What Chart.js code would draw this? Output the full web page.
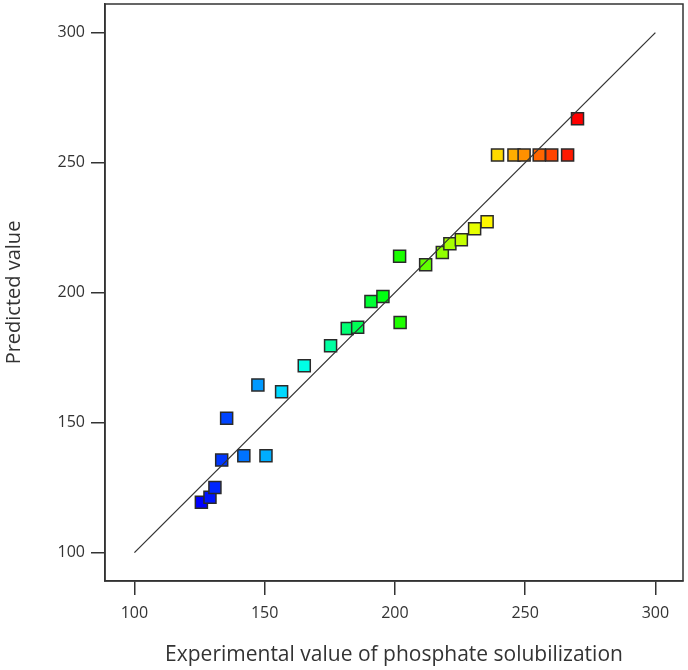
<!DOCTYPE html>
<html>
<head>
<meta charset="utf-8">
<script src="https://cdn.jsdelivr.net/npm/chart.js@4.4.1/dist/chart.umd.min.js"></script>
<style>
    html, body {
        margin: 0;
        padding: 0;
        background: #ffffff;
    }
    .wrap {
        width: 688px;
        height: 670px;
        position: relative;
    }
</style>
</head>
<body>
<div class="wrap"><canvas id="chart"></canvas></div>
<script>
const experimental = [125.7, 129.0, 130.9, 133.5, 135.4, 142.0, 150.5, 147.4, 156.5, 165.2,
    175.3, 181.7, 185.7, 190.8, 195.4, 201.8, 202.0, 211.8, 218.2, 221.1,
    225.5, 230.6, 235.4, 239.4, 245.7, 249.6, 255.4, 260.2, 266.3, 270.1];
const predicted = [119.4, 121.3, 125.1, 135.6, 151.7, 137.3, 137.3, 164.5, 161.9, 171.9,
    179.6, 186.2, 186.7, 196.6, 198.5, 214.0, 188.5, 210.7, 215.4, 218.8,
    220.3, 224.6, 227.3, 252.9, 252.9, 252.9, 252.9, 252.9, 252.9, 266.9];

// y = x reference line
const diagonal = [100, 300];

const xTicks = [100, 150, 200, 250, 300];
const yTicks = [100, 150, 200, 250, 300];

const xTitle = 'Experimental value of phosphate solubilization';
const yTitle = 'Predicted value';

const ink = '#333333';
const fontFamily = '"Open Sans", "Noto Sans", sans-serif';

const lo = Math.min(...experimental);
const hi = Math.max(...experimental);
function colorFor(v) {
    const hue = 240 * (1 - (v - lo) / (hi - lo));
    return 'hsl(' + hue.toFixed(0) + ', 100%, 50%)';
}

const points = experimental.map((x, i) => ({ x: x, y: predicted[i] }));

const frame = {
    id: 'frame',
    afterDraw(chart) {
        const { ctx, chartArea } = chart;
        ctx.save();
        ctx.strokeStyle = ink;
        ctx.lineWidth = 1.5;
        ctx.strokeRect(chartArea.left, chartArea.top,
            chartArea.right - chartArea.left, chartArea.bottom - chartArea.top);
        ctx.restore();
    }
};

const ctx = document.getElementById('chart').getContext('2d');

new Chart(ctx, {
    type: 'scatter',
    data: {
        datasets: [{
            type: 'line',
            data: diagonal.map(v => ({ x: v, y: v })),
            borderColor: ink,
            borderWidth: 1.3,
            pointRadius: 0,
            fill: false,
            order: 0,
        }, {
            data: points,
            pointStyle: 'rect',
            pointRadius: 8.5,
            pointHoverRadius: 8.5,
            pointBackgroundColor: points.map(p => colorFor(p.x)),
            pointBorderColor: '#2a2a2a',
            pointBorderWidth: 1.5,
            order: 1,
        }]
    },
    options: {
        responsive: true,
        maintainAspectRatio: false,
        animation: false,
        layout: {
            autoPadding: false,
            padding: { top: 4, right: 5, left: 0, bottom: 0 },
        },
        plugins: {
            legend: { display: false },
            tooltip: { enabled: false },
        },
        scales: {
            x: {
                type: 'linear',
                min: 88.7,
                max: 310.6,
                afterBuildTicks: s => { s.ticks = xTicks.map(v => ({ value: v })); },
                afterFit: s => {
                    s.height = 89;
                    s.paddingLeft = 0;
                    s.paddingRight = 0;
                },
                grid: {
                    drawOnChartArea: false,
                    drawTicks: true,
                    tickLength: 14,
                    color: ink,
                    lineWidth: 1.5,
                },
                border: { display: true, color: ink, width: 1.5 },
                ticks: {
                    color: ink,
                    padding: 9,
                    font: { family: fontFamily, size: 16 },
                },
                title: {
                    display: true,
                    text: xTitle,
                    color: ink,
                    padding: { top: 0, bottom: 2 },
                    font: { family: fontFamily, size: 21 },
                },
            },
            y: {
                type: 'linear',
                min: 89.1,
                max: 311,
                afterBuildTicks: s => { s.ticks = yTicks.map(v => ({ value: v })); },
                afterFit: s => {
                    s.width = 105;
                    s.paddingTop = 0;
                    s.paddingBottom = 0;
                },
                grid: {
                    drawOnChartArea: false,
                    drawTicks: true,
                    tickLength: 14,
                    color: ink,
                    lineWidth: 1.5,
                },
                border: { display: true, color: ink, width: 1.5 },
                ticks: {
                    color: ink,
                    padding: 6,
                    font: { family: fontFamily, size: 16 },
                },
                title: {
                    display: true,
                    text: yTitle,
                    color: ink,
                    padding: { top: 2, bottom: 0 },
                    font: { family: fontFamily, size: 20 },
                },
            },
        },
    },
    plugins: [frame],
});
</script>
</body>
</html>
